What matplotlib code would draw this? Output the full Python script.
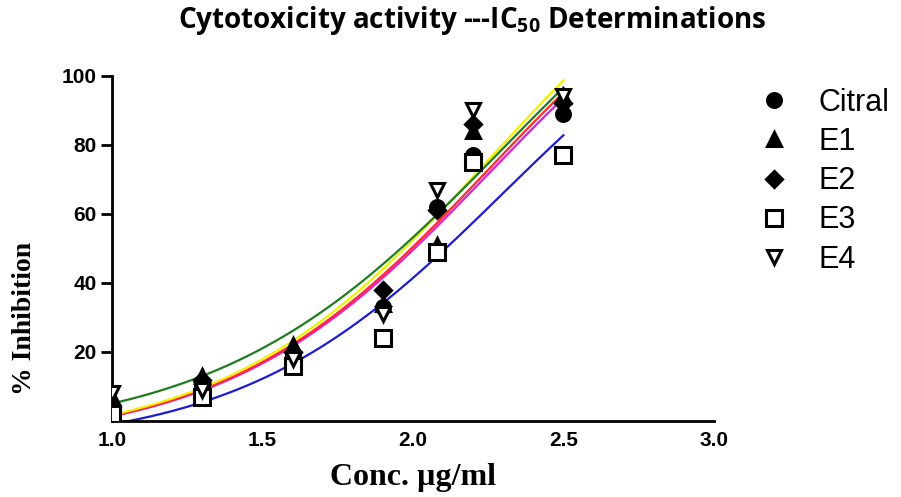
import numpy as np
import matplotlib
matplotlib.use('Agg')
import matplotlib.pyplot as plt

# log10 of concentration (µg/ml) for each dose
log_conc = [1.0, 1.3, 1.6, 1.9, 2.08, 2.2, 2.5]

# % inhibition per compound
citral = [3, 10, 19, 33, 62, 77, 89]
e1 = [7, 13, 22, 34, 51, 84, 94]
e2 = [4, 12, 20, 38, 61, 86, 92]
e3 = [2, 7, 16, 24, 49, 75, 77]
e4 = [8, 9, 18, 31, 67, 90, 94]

names = ['Citral', 'E1', 'E2', 'E3', 'E4']

# fitted curve parameters: bottom, top, log mid-point, hill slope
fit_bottom = [-7, -5, -7, -8, -7]
fit_top = [152.5, 163, 150, 140, 158]
fit_logmid = [2.25, 2.3, 2.25, 2.3, 2.25]
fit_hill = [1.0, 0.92, 1.0, 1.0, 1.0]


def logistic(x, bottom, top, log_mid, hill):
    return bottom + (top - bottom) / (1 + 10 ** ((log_mid - x) * hill))


series = [citral, e1, e2, e3, e4]
curve_colors = ['#ff2a2a', '#1e7d1e', '#e11ee6', '#1c1cd2', '#f2f200']
markers = ['o', '^', 'D', 's', 'v']
marker_sizes = [10, 10.5, 8, 11, 10.5]
marker_faces = ['black', 'black', 'black', 'white', 'white']

fig = plt.figure(figsize=(9.01, 4.97), dpi=100)
ax = fig.add_axes([0.1243, 0.1529, 0.668, 0.6948])

x_fit = np.linspace(1.0, 2.5, 200)
# draw fits in this order so yellow / green sit above the others
for i in [3, 2, 0, 4, 1]:
    y_fit = logistic(x_fit, fit_bottom[i], fit_top[i], fit_logmid[i], fit_hill[i])
    ax.plot(x_fit, y_fit, color=curve_colors[i], lw=1.6, zorder=2)

for i, vals in enumerate(series):
    ax.plot(log_conc, vals, linestyle='none', marker=markers[i],
            ms=marker_sizes[i], mfc=marker_faces[i], mec='black', mew=2.2,
            label=names[i], zorder=3)

ax.set_xlim(1.0, 3.0)
ax.set_ylim(0, 100)
ax.set_xticks([1.0, 1.5, 2.0, 2.5, 3.0])
ax.set_xticklabels(['1.0', '1.5', '2.0', '2.5', '3.0'])
ax.set_yticks([20, 40, 60, 80, 100])

for side in ['top', 'right']:
    ax.spines[side].set_visible(False)
for side in ['left', 'bottom']:
    ax.spines[side].set_linewidth(2)

ax.tick_params(axis='y', direction='out', length=8, width=2, pad=3)
ax.tick_params(axis='x', length=0, pad=7)
for lab in ax.get_xticklabels() + ax.get_yticklabels():
    lab.set_fontfamily('Liberation Sans')
    lab.set_fontweight('bold')
    lab.set_fontsize(15)

leg = ax.legend(loc='upper left', bbox_to_anchor=(1.055, 1.0), frameon=False,
                handlelength=1.0, handletextpad=0.95, labelspacing=0.3,
                prop={'family': 'Liberation Sans', 'size': 22},
                borderaxespad=0)

fig.text(0.524, 0.958, 'Cytotoxicity activity ---IC$_{\\mathregular{50}}$ Determinations',
         ha='center', va='center', family='Open Sans', fontweight='bold', fontsize=20)
fig.text(0.027, 0.36, '% Inhibition', rotation=90, ha='center', va='center',
         family='Liberation Serif', fontweight='bold', fontsize=20)
fig.text(0.458, 0.04, 'Conc. µg/ml', ha='center', va='center',
         family='Liberation Serif', fontweight='bold', fontsize=23)

fig.savefig('out.png', dpi=100)
